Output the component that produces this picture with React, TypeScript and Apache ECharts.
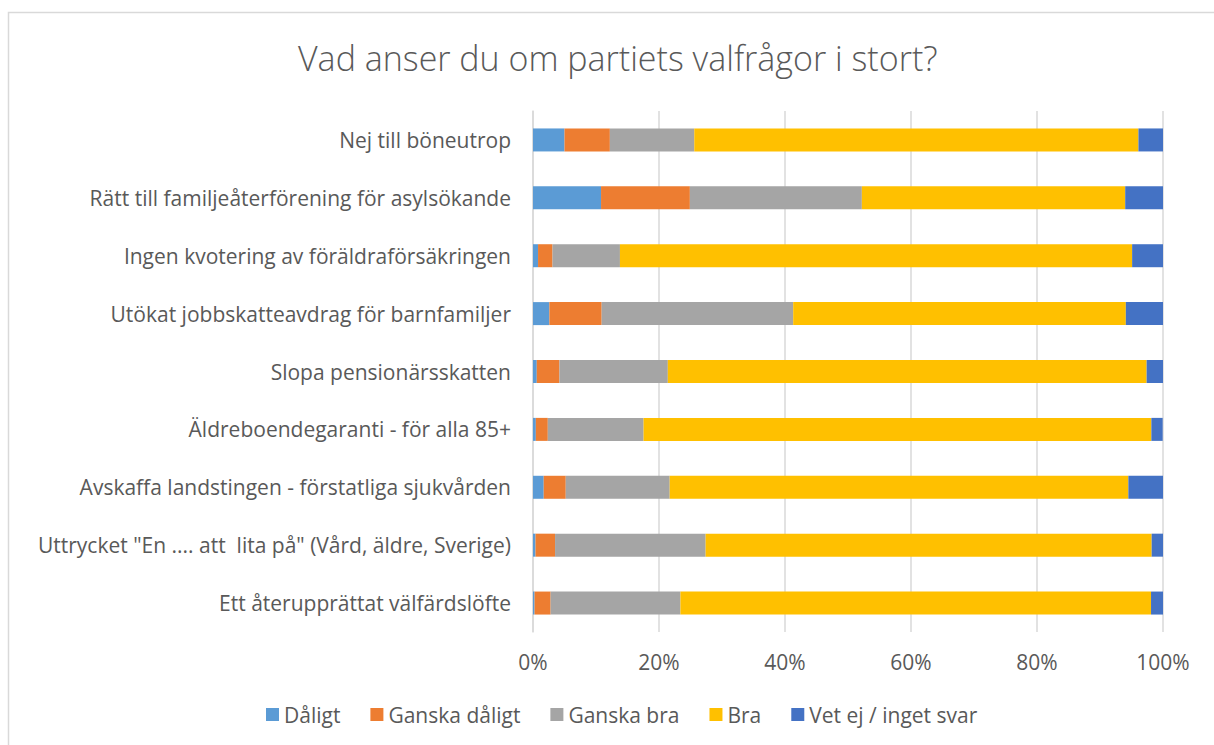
import React, { useEffect, useRef } from "react";
import * as echarts from "echarts";

const categories = [
  "Nej till böneutrop",
  "Rätt till familjeåterförening för asylsökande",
  "Ingen kvotering av föräldraförsäkringen",
  "Utökat jobbskatteavdrag för barnfamiljer",
  "Slopa pensionärsskatten",
  "Äldreboendegaranti - för alla 85+",
  "Avskaffa landstingen - förstatliga sjukvården",
  "Uttrycket \"En .... att  lita på\" (Vård, äldre, Sverige)",
  "Ett återupprättat välfärdslöfte",
];

const daligt = [5.0, 10.8, 0.8, 2.6, 0.6, 0.45, 1.7, 0.4, 0.25];
const ganskaDaligt = [7.2, 14.1, 2.3, 8.3, 3.6, 1.9, 3.5, 3.1, 2.55];
const ganskaBra = [13.4, 27.3, 10.7, 30.4, 17.2, 15.2, 16.5, 23.9, 20.6];
const bra = [70.5, 41.8, 81.3, 52.8, 76.0, 80.6, 72.8, 70.8, 74.7];
const vetEj = [3.9, 6.0, 4.9, 5.9, 2.6, 1.8, 5.5, 1.8, 1.9];

const seriesDefs = [
  { name: "Dåligt", data: daligt, color: "#5B9BD5" },
  { name: "Ganska dåligt", data: ganskaDaligt, color: "#ED7D31" },
  { name: "Ganska bra", data: ganskaBra, color: "#A5A5A5" },
  { name: "Bra", data: bra, color: "#FFC000" },
  { name: "Vet ej / inget svar", data: vetEj, color: "#4472C4" },
];

const FONT = "Open Sans";

export default function App() {
  const ref = useRef<HTMLDivElement>(null);
  useEffect(() => {
    document.body.style.margin = "0";
    const chart = echarts.init(ref.current!, null, { renderer: "svg" });
    chart.setOption({
      animation: false,
      backgroundColor: "#ffffff",
      textStyle: { fontFamily: FONT },
      title: {
        text: "Vad anser du om partiets valfrågor i stort?",
        left: 293,
        top: 36,
        textStyle: {
          fontFamily: FONT,
          fontSize: 34,
          fontWeight: 300,
          color: "#595959",
        },
      },
      graphic: [
        {
          type: "rect",
          shape: { x: 8.5, y: 12.5, width: 1230, height: 760 },
          style: { fill: "none", stroke: "#d9d9d9", lineWidth: 1.5 },
          silent: true,
        },
      ],
      legend: {
        bottom: 15,
        left: 261,
        itemWidth: 13,
        itemHeight: 13,
        itemGap: 30,
        icon: "rect",
        textStyle: { fontFamily: FONT, fontSize: 21, color: "#595959" },
        data: seriesDefs.map((s) => s.name),
      },
      grid: { left: 533, right: 51, top: 111, bottom: 113, containLabel: false },
      xAxis: {
        type: "value",
        min: 0,
        max: 100,
        interval: 20,
        axisLabel: {
          formatter: "{value}%",
          fontFamily: FONT,
          fontSize: 21,
          color: "#595959",
          margin: 19,
        },
        axisLine: { show: false },
        axisTick: { show: false },
        splitLine: { lineStyle: { color: "#d9d9d9", width: 1.5 } },
      },
      yAxis: {
        type: "category",
        inverse: true,
        data: categories,
        axisLabel: {
          fontFamily: FONT,
          fontSize: 21,
          color: "#595959",
          margin: 22,
        },
        axisLine: { lineStyle: { color: "#d9d9d9", width: 1.5 } },
        axisTick: { show: false },
      },
      series: seriesDefs.map((s) => ({
        name: s.name,
        type: "bar",
        stack: "total",
        data: s.data,
        barWidth: 23,
        itemStyle: { color: s.color },
      })),
    });
    return () => chart.dispose();
  }, []);
  return <div ref={ref} style={{ width: 1214, height: 745 }} />;
}
